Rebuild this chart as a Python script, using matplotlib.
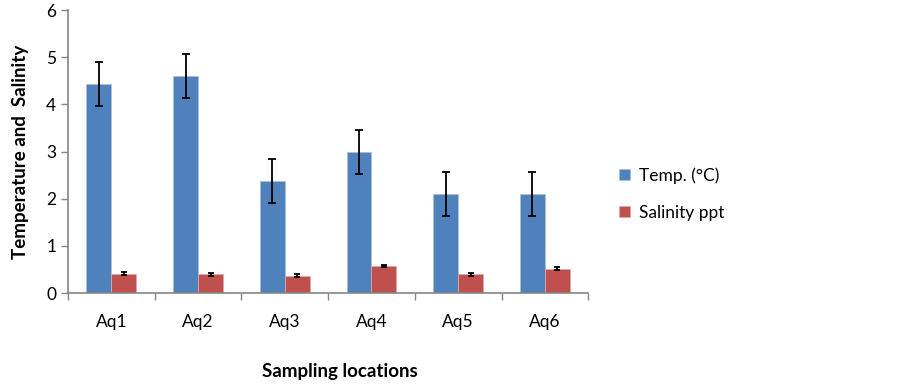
import numpy as np
import matplotlib.pyplot as plt

plt.rcParams['font.family'] = ['Lato', 'DejaVu Sans']

locations = ['Aq1', 'Aq2', 'Aq3', 'Aq4', 'Aq5', 'Aq6']
temp = [4.43, 4.60, 2.37, 2.99, 2.10, 2.10]
temp_err = [0.47, 0.47, 0.47, 0.47, 0.47, 0.47]
salinity = [0.41, 0.40, 0.37, 0.57, 0.40, 0.52]
salinity_err = [0.03, 0.03, 0.03, 0.02, 0.03, 0.03]

fig = plt.figure(figsize=(9, 3.91), dpi=100)
ax = fig.add_axes([0.0756, 0.2506, 0.578, 0.7234])

x = np.arange(len(locations))
w = 0.288
axis_color = '#868686'

ax.bar(x - w / 2, temp, w, color='#4F81BD', edgecolor='#A7C0DE', linewidth=0.6,
       yerr=temp_err, error_kw=dict(ecolor='black', elinewidth=1.3, capsize=3.2, capthick=1.3),
       label='Temp. (°C)')
ax.bar(x + w / 2, salinity, w, color='#C0504D', edgecolor='#E0A8A6', linewidth=0.6,
       yerr=salinity_err, error_kw=dict(ecolor='black', elinewidth=1.3, capsize=2.4, capthick=1.3),
       label='Salinity ppt')

ax.set_xlim(-0.5, len(locations) - 0.5)
ax.set_ylim(0, 6)
ax.set_yticks(range(0, 7))

ax.set_xticks(x)
ax.set_xticklabels(locations)
ax.set_xticks(np.arange(-0.5, len(locations)), minor=True)
ax.tick_params(axis='x', which='major', length=0, pad=15, labelsize=12.5)
ax.tick_params(axis='x', which='minor', length=5, color=axis_color, width=1)
ax.tick_params(axis='y', length=5, color=axis_color, width=1, labelsize=12.5)

for s in ['top', 'right']:
    ax.spines[s].set_visible(False)
for s in ['left', 'bottom']:
    ax.spines[s].set_color(axis_color)
    ax.spines[s].set_linewidth(1.2)

ax.set_xlabel('Sampling locations', fontsize=13.5, fontweight='bold', labelpad=24)
ax.xaxis.label.set_x(0.523)
ax.set_ylabel('Temperature and  Salinity', fontsize=13.5, fontweight='bold', labelpad=12)

ax.legend(loc='center left', bbox_to_anchor=(1.03, 0.35), frameon=False,
          fontsize=12.5, handlelength=0.6, handleheight=0.6, labelspacing=1.2,
          handletextpad=0.5)

fig.savefig('out.png', dpi=100)
